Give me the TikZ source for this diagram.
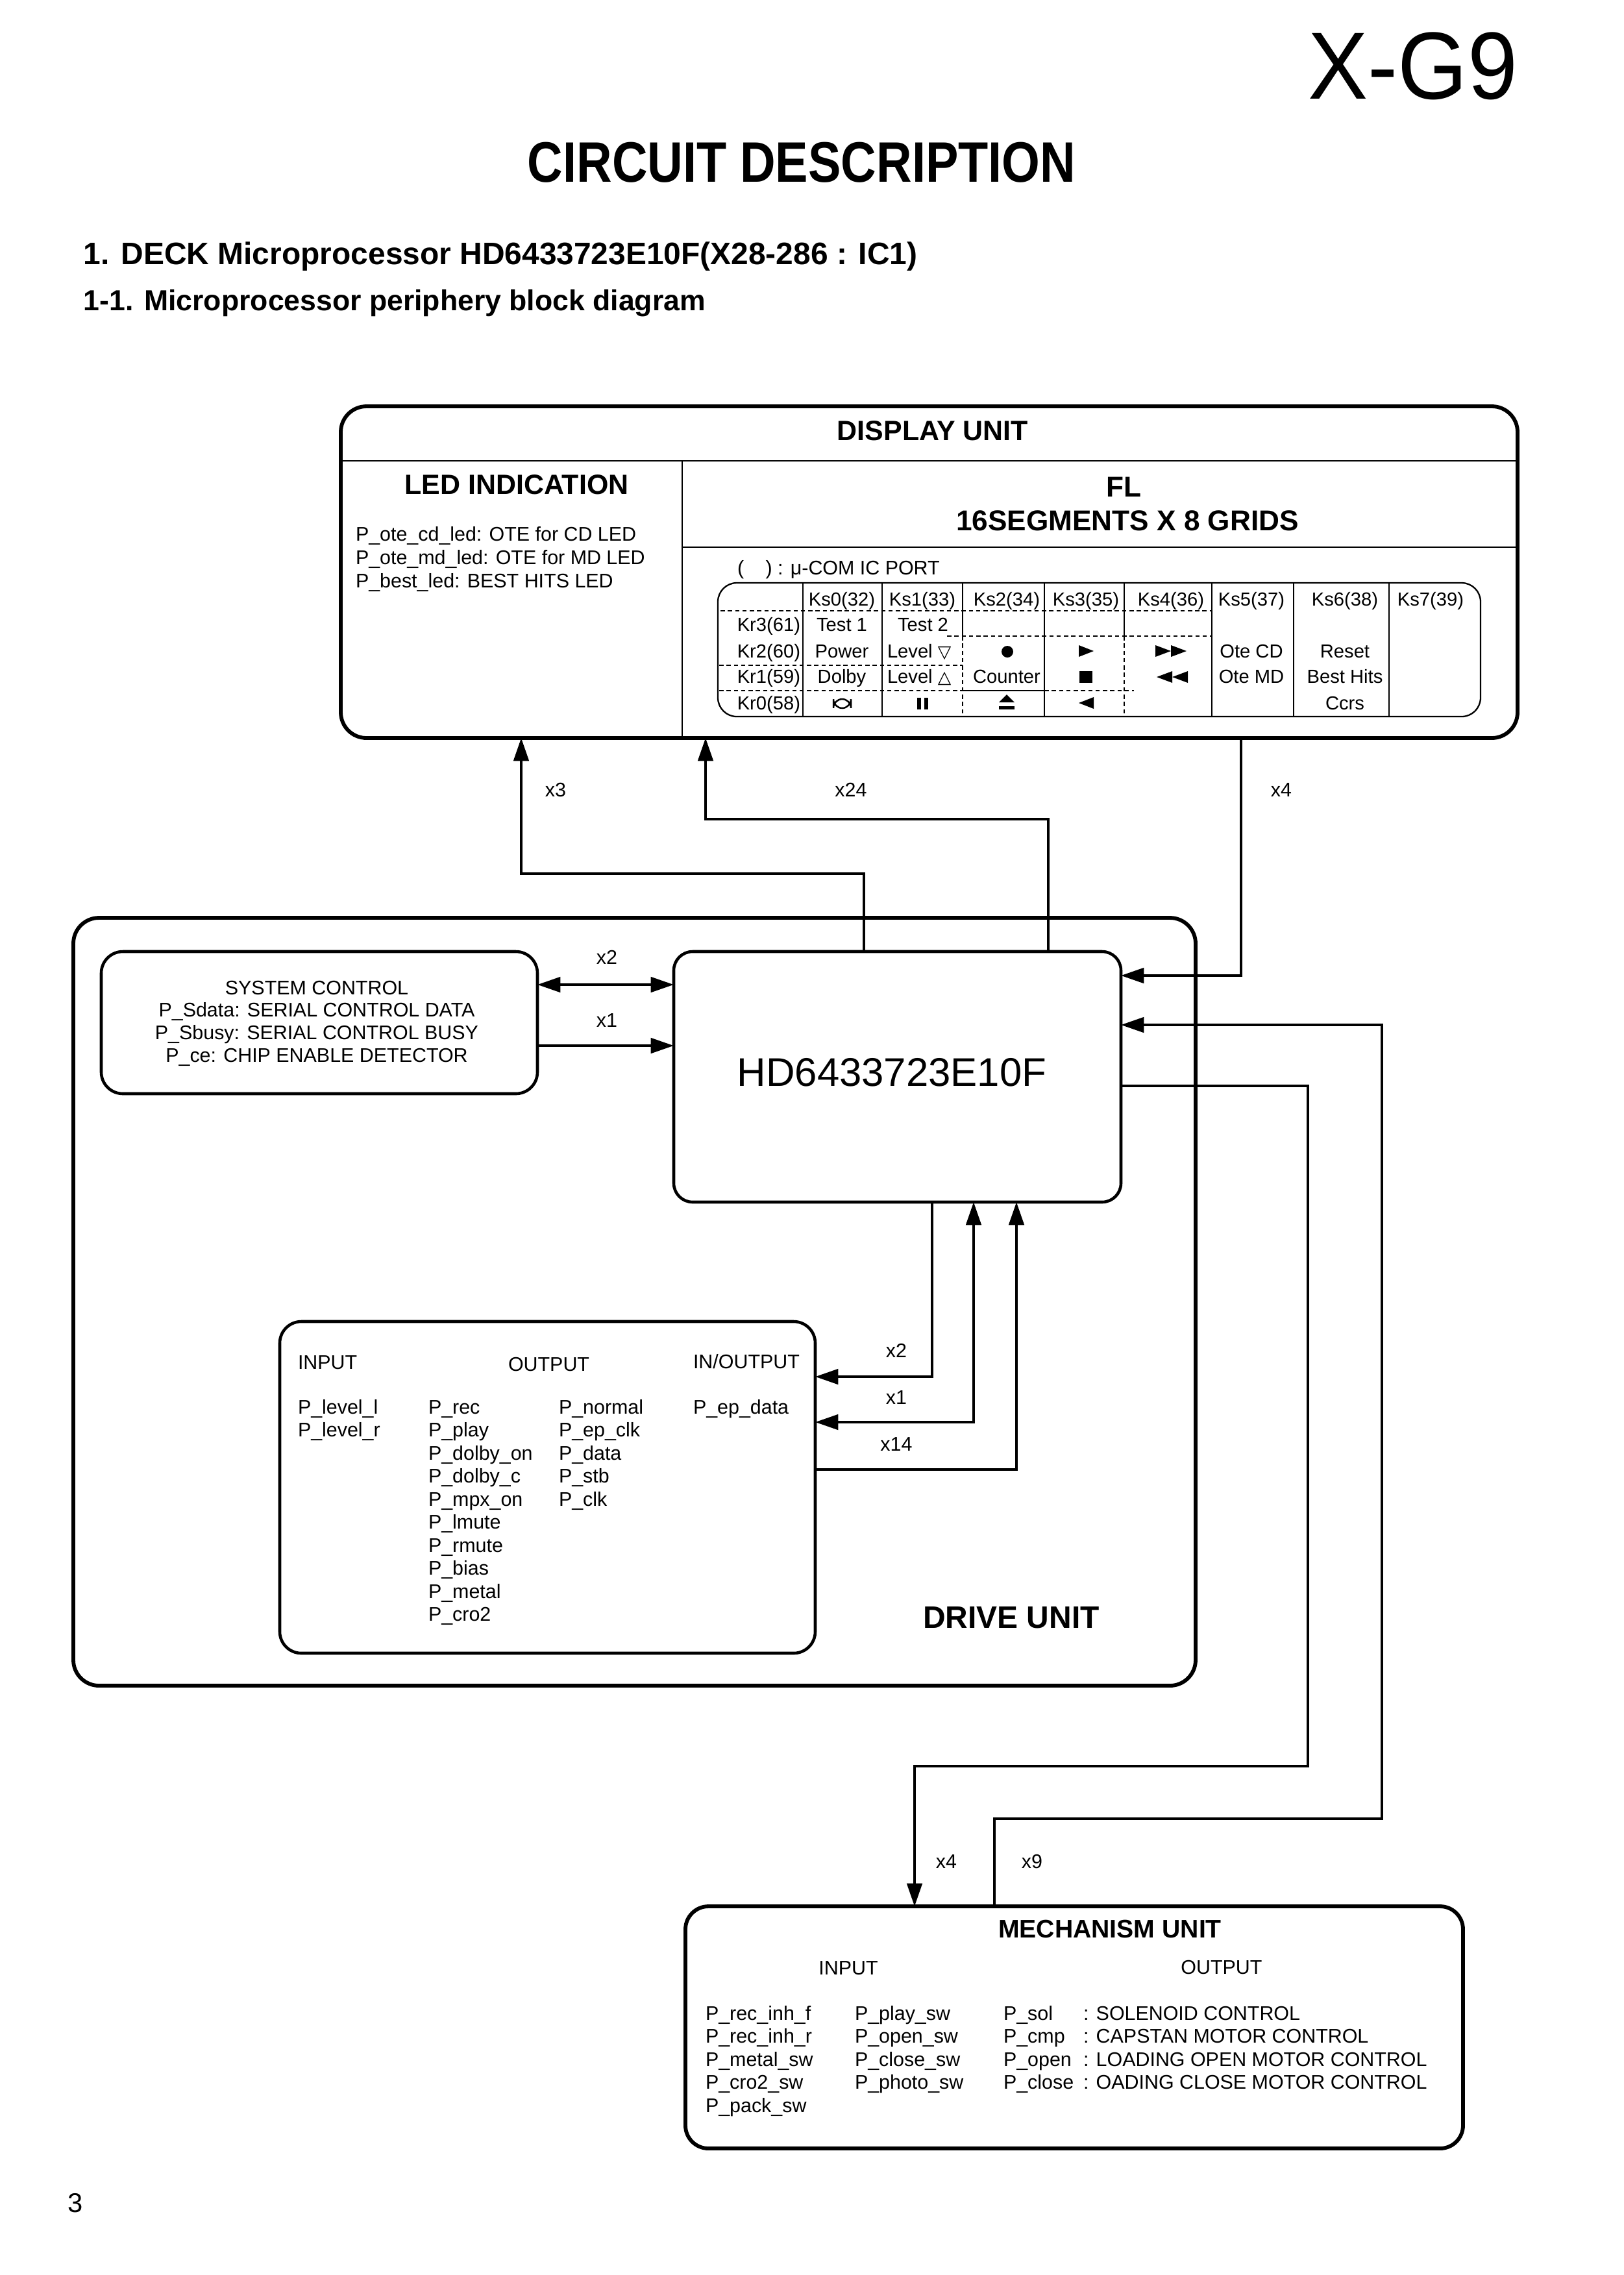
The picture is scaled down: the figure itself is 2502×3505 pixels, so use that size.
\documentclass[tikz,border=0pt]{standalone}
\usepackage{fontspec}
\usepackage{graphicx}
\setmainfont{Liberation Sans}
\newfontfamily\dejavu{DejaVu Sans}
\usetikzlibrary{arrows.meta}
\newdimen\px \px=0.24pt
\begin{document}
\begin{tikzpicture}[x=0.24pt,y=-0.24pt,
  every node/.style={inner sep=0pt, outer sep=0pt},
  ubox/.style={draw, line width=1.4pt, rounded corners=9.5pt, anchor=north west},
  ibox/.style={draw, line width=1.1pt, rounded corners=8pt, anchor=north west},
  conn/.style={line width=0.95pt},
  arr/.style={conn, -{Triangle[length=8.5pt,width=5.6pt]}},
  dblarr/.style={conn, {Triangle[length=8.5pt,width=5.6pt]}-{Triangle[length=8.5pt,width=5.6pt]}},
  txt/.style={font=\fontsize{7.3}{8.8}\selectfont},
  tab/.style={font=\fontsize{7}{8}\selectfont},
  head/.style={font=\fontsize{10.3}{12}\selectfont\bfseries},
  tl/.style={line width=0.45pt},
  td/.style={line width=0.4pt, dash pattern=on 1.6pt off 1.1pt},
  sym/.style={fill=black},
]
\useasboundingbox (0,0) rectangle (2502,3505);

% ---------- page titles ----------
\node[anchor=base east, font=\fontsize{35.3}{40}\selectfont] (model) at (2338,152) {\scalebox{0.94}[1]{X-G9}};
\node[anchor=base, font=\fontsize{21.1}{24}\selectfont\bfseries] (cdesc) at (1235,280) {\scalebox{0.86}[1]{CIRCUIT DESCRIPTION}};
\node[anchor=base west, font=\fontsize{11.5}{14}\selectfont\bfseries] (h1) at (129,407) {1. DECK Microprocessor HD6433723E10F(X28-286 : IC1)};
\node[anchor=base west, font=\fontsize{10.7}{13}\selectfont\bfseries] (h2) at (129,478) {1-1. Microprocessor periphery block diagram};
\node[anchor=base, font=\fontsize{10}{12}\selectfont] (pg) at (116,3408) {3};

% ---------- display unit ----------
\node[ubox, minimum width=1813\px, minimum height=511\px] (disp) at (525,626) {};
\draw[line width=0.7pt] (disp.west |- 0,710) -- (disp.east |- 0,710);
\draw[line width=0.7pt] (1051,710) -- (1051,710 |- disp.south);
\draw[line width=0.7pt] (1051,843) -- (disp.east |- 0,843);
\node[head, anchor=base] (dtitle) at (1437,678) {DISPLAY UNIT};
\node[head, anchor=base] (ledt) at (796,761) {LED INDICATION};
\node[font=\fontsize{10.6}{12}\selectfont\bfseries, anchor=base] (flt) at (1731,765) {FL};
\node[font=\fontsize{10.6}{12}\selectfont\bfseries, anchor=base] (segt) at (1737,817) {16SEGMENTS X 8 GRIDS};
\node[txt, anchor=base west] (led1) at (548,833) {P\_ote\_cd\_led: OTE for CD LED};
\node[txt, anchor=base west] (led2) at (548,869) {P\_ote\_md\_led: OTE for MD LED};
\node[txt, anchor=base west] (led3) at (548,905) {P\_best\_led: BEST HITS LED};
\node[txt, anchor=base west] (port) at (1136,885) {(\hspace{1.1em}) : μ-COM IC PORT};

% key matrix table
\node[draw, line width=0.55pt, rounded corners=7pt, anchor=north west, minimum width=1175\px, minimum height=206\px] (tbl) at (1106,898) {};
\foreach \xx in {1237,1359,1609,1867,1993,2140} {\draw[tl] (\xx,898) -- (\xx,1104);}
\foreach \xx in {1483,1732} {\draw[tl] (\xx,898) -- (\xx,980); \draw[td] (\xx,980) -- (\xx,1104);}
\draw[td] (1110,941) -- (1867,941);
\draw[td] (1459,980) -- (1867,980);
\draw[td] (1108,1025) -- (1483,1025);
\draw[td] (1108,1064) -- (1483,1064);
\draw[tl] (1483,1064) -- (1609,1064);
\draw[td] (1609,1064) -- (1747,1064);

\foreach \lab/\cx in {Ks0(32)/1297,Ks1(33)/1421,Ks2(34)/1551,Ks3(35)/1673,Ks4(36)/1804,Ks5(37)/1928,Ks6(38)/2072,Ks7(39)/2204}
  {\node[tab, anchor=base] (k-\cx) at (\cx,933) {\lab};}
\node[tab, anchor=base east] (kr3) at (1233,972) {Kr3(61)};
\node[tab, anchor=base east] (kr2) at (1233,1013) {Kr2(60)};
\node[tab, anchor=base east] (kr1) at (1233,1052) {Kr1(59)};
\node[tab, anchor=base east] (kr0) at (1233,1093) {Kr0(58)};
\node[tab, anchor=base] (test1) at (1297,972) {Test 1};
\node[tab, anchor=base] (test2) at (1422,972) {Test 2};
\node[tab, anchor=base] (power) at (1297,1013) {Power};
\node[tab, anchor=base] (dolby) at (1297,1052) {Dolby};
\node[tab, anchor=base west] (lvdn) at (1367,1013) {Level {\dejavu\fontsize{6.4}{7}\selectfont ▽}};
\node[tab, anchor=base west] (lvup) at (1367,1052) {Level {\dejavu\fontsize{6.4}{7}\selectfont △}};
\node[tab, anchor=base] (counter) at (1551,1052) {Counter};
\node[tab, anchor=base] (otecd) at (1928,1013) {Ote CD};
\node[tab, anchor=base] (otemd) at (1928,1052) {Ote MD};
\node[tab, anchor=base] (reset) at (2072,1013) {Reset};
\node[tab, anchor=base] (besth) at (2072,1052) {Best Hits};
\node[tab, anchor=base] (ccrs) at (2072,1093) {Ccrs};
% symbols
\fill (1552,1004) circle (9);
\fill (1662,994) -- (1685,1003) -- (1662,1012) -- cycle;
\fill (1780,994) -- (1804,1003) -- (1780,1012) -- cycle;
\fill (1804,994) -- (1828,1003) -- (1804,1012) -- cycle;
\fill (1663,1034) rectangle (1683,1052);
\fill (1806,1034) -- (1782,1043) -- (1806,1052) -- cycle;
\fill (1830,1034) -- (1806,1043) -- (1830,1052) -- cycle;
\fill (1685,1074) -- (1662,1083) -- (1685,1092) -- cycle;
\fill (1539,1082) -- (1563,1082) -- (1551,1070) -- cycle;
\fill (1539,1088) rectangle (1563,1093);
\fill (1413,1075) rectangle (1419,1093);
\fill (1424,1075) rectangle (1430,1093);
\draw[line width=0.6pt, rounded corners=3.3pt] (1284,1077) rectangle (1311,1091);

% ---------- drive unit ----------
\node[ubox, minimum width=1729\px, minimum height=1183\px] (drive) at (113,1414) {};
\node[anchor=base, font=\fontsize{11.5}{13}\selectfont\bfseries] (drt) at (1558,2508) {DRIVE UNIT};

\node[ibox, minimum width=672\px, minimum height=219\px] (sys) at (156,1466) {};
\node[txt, anchor=base] (sys1) at (488,1532) {SYSTEM CONTROL};
\node[txt, anchor=base] (sys2) at (488,1566) {P\_Sdata: SERIAL CONTROL DATA};
\node[txt, anchor=base] (sys3) at (488,1601) {P\_Sbusy: SERIAL CONTROL BUSY};
\node[txt, anchor=base] (sys4) at (488,1636) {P\_ce: CHIP ENABLE DETECTOR};

\node[ibox, rounded corners=7pt, minimum width=689\px, minimum height=386\px] (hd) at (1038,1466) {};
\node[anchor=base, font=\fontsize{14.8}{17}\selectfont] (hdt) at (1374,1673) {HD6433723E10F};

\node[ibox, minimum width=825\px, minimum height=511\px] (io) at (431,2036) {};
\node[txt, anchor=base west] (ioin) at (459,2109) {INPUT};
\node[txt, anchor=base west] (ioout) at (783,2112) {OUTPUT};
\node[txt, anchor=base west] (ioio) at (1068,2108) {IN/OUTPUT};
\node[txt, anchor=base west] (lvl) at (459,2178) {P\_level\_l};
\node[txt, anchor=base west] (lvr) at (459,2213) {P\_level\_r};
\foreach \lab [count=\i from 0] in {P\_rec,P\_play,P\_dolby\_on,P\_dolby\_c,P\_mpx\_on,P\_lmute,P\_rmute,P\_bias,P\_metal,P\_cro2}
  {\node[txt, anchor=base west] (oa\i) at (660,2178+35.5*\i) {\lab};}
\foreach \lab [count=\i from 0] in {P\_normal,P\_ep\_clk,P\_data,P\_stb,P\_clk}
  {\node[txt, anchor=base west] (ob\i) at (861,2178+35.5*\i) {\lab};}
\node[txt, anchor=base west] (epd) at (1068,2178) {P\_ep\_data};

% ---------- mechanism unit ----------
\node[ubox, rounded corners=8.5pt, minimum width=1198\px, minimum height=373\px] (mech) at (1056,2937) {};
\node[anchor=base, font=\fontsize{9.4}{11}\selectfont\bfseries] (mecht) at (1710,2985) {MECHANISM UNIT};
\node[txt, anchor=base] (min) at (1307,3042) {INPUT};
\node[txt, anchor=base] (mout) at (1882,3041) {OUTPUT};
\foreach \lab [count=\i from 0] in {P\_rec\_inh\_f,P\_rec\_inh\_r,P\_metal\_sw,P\_cro2\_sw,P\_pack\_sw}
  {\node[txt, anchor=base west] (ma\i) at (1087,3112+35.5*\i) {\lab};}
\foreach \lab [count=\i from 0] in {P\_play\_sw,P\_open\_sw,P\_close\_sw,P\_photo\_sw}
  {\node[txt, anchor=base west] (mb\i) at (1317,3112+35.5*\i) {\lab};}
\foreach \lab [count=\i from 0] in {P\_sol,P\_cmp,P\_open,P\_close}
  {\node[txt, anchor=base west] (mc\i) at (1546,3112+35.5*\i) {\lab};}
\foreach \lab [count=\i from 0] in {: SOLENOID CONTROL,: CAPSTAN MOTOR CONTROL,: LOADING OPEN MOTOR CONTROL,: OADING CLOSE MOTOR CONTROL}
  {\node[txt, anchor=base west] (md\i) at (1669,3112+35.5*\i) {\lab};}

% ---------- connectors ----------
\coordinate (c3a) at (1331,1346);
\coordinate (c3b) at (803,1346);
\draw[arr] (hd.north -| c3a) -- (c3a) -- (c3b) -- (c3b |- disp.south);
\coordinate (c24a) at (1615,1262);
\coordinate (c24b) at (1087,1262);
\draw[arr] (hd.north -| c24a) -- (c24a) -- (c24b) -- (c24b |- disp.south);
\coordinate (c4a) at (1912,1503);
\draw[arr] (disp.south -| c4a) -- (c4a) -- (c4a -| hd.east);
\node[txt, anchor=base] (lx3) at (856,1227) {x3};
\node[txt, anchor=base] (lx24) at (1311,1227) {x24};
\node[txt, anchor=base] (lx4a) at (1974,1227) {x4};

\coordinate (s2) at (930,1517);
\coordinate (s1) at (930,1611);
\draw[dblarr] (s2 -| sys.east) -- (s2 -| hd.west);
\draw[arr] (s1 -| sys.east) -- (s1 -| hd.west);
\node[txt, anchor=base] (ls2) at (935,1485) {x2};
\node[txt, anchor=base] (ls1) at (935,1582) {x1};

\coordinate (ia) at (1436,2121);
\coordinate (ib) at (1500,2191);
\coordinate (ic) at (1566,2264);
\draw[arr] (hd.south -| ia) -- (ia) -- (ia -| io.east);
\draw[dblarr] (hd.south -| ib) -- (ib) -- (ib -| io.east);
\draw[arr] (ic -| io.east) -- (ic) -- (ic |- hd.south);
\node[txt, anchor=base] (li2) at (1381,2091) {x2};
\node[txt, anchor=base] (li1) at (1381,2163) {x1};
\node[txt, anchor=base] (li14) at (1381,2235) {x14};

\coordinate (c4c) at (2015,1673);
\coordinate (c4d) at (2015,2721);
\coordinate (c4e) at (1409,2721);
\draw[arr] (c4c -| hd.east) -- (c4c) -- (c4d) -- (c4e) -- (c4e |- mech.north);
\coordinate (c9a) at (1532,2802);
\coordinate (c9b) at (2129,2802);
\coordinate (c9c) at (2129,1579);
\draw[arr] (mech.north -| c9a) -- (c9a) -- (c9b) -- (c9c) -- (c9c -| hd.east);
\node[txt, anchor=base] (lm4) at (1458,2878) {x4};
\node[txt, anchor=base] (lm9) at (1590,2878) {x9};
\end{tikzpicture}
\end{document}
